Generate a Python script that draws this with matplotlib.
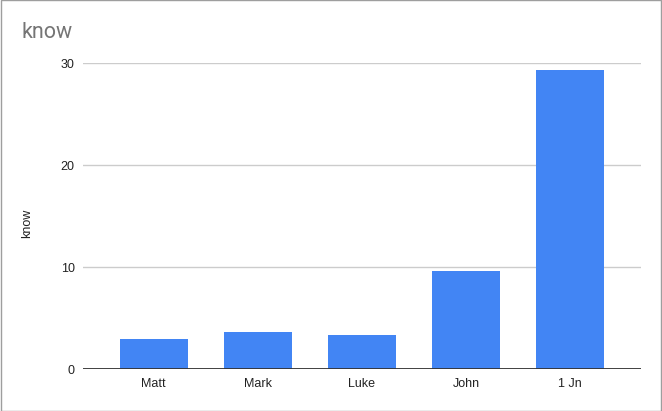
import matplotlib.pyplot as plt
from matplotlib.patches import Rectangle

# Data
books = ['Matt', 'Mark', 'Luke', 'John', '1 Jn']
know = [3.0, 3.65, 3.35, 9.6, 29.35]
y_ticks = [0, 10, 20, 30]

plt.rcParams['font.family'] = ['Liberation Sans', 'DejaVu Sans']

fig = plt.figure(figsize=(6.62, 4.11), dpi=100)
ax = fig.add_axes([0.1254, 0.1015, 0.8426, 0.744])

ax.bar(range(len(books)), know, width=0.65, color='#4285F4', zorder=3)

ax.set_xlim(-0.68, len(books) - 1 + 0.68)
ax.set_ylim(0, 30)
ax.set_yticks(y_ticks)
ax.set_xticks(range(len(books)))
ax.set_xticklabels(books)

# gridlines and baseline
ax.grid(axis='y', color='#cccccc', linewidth=1, zorder=0)
ax.axhline(0, color='#333333', linewidth=1.3, zorder=4)
for s in ax.spines.values():
    s.set_visible(False)

ax.tick_params(axis='both', length=0, labelsize=9, colors='#222222')
ax.tick_params(axis='y', pad=6)
ax.tick_params(axis='x', pad=6)

ax.set_ylabel('know', fontsize=9, color='#222222')
ax.yaxis.set_label_coords(-0.09, 0.478)

fig.text(0.033, 0.92, 'know', fontsize=15.5, color='#757575',
         family=['Roboto', 'DejaVu Sans'], va='center', ha='left')

# outer border
fig.patches.append(Rectangle((0.0008, 0.0012), 0.9984, 0.9976, transform=fig.transFigure,
                             fill=False, edgecolor='#9e9e9e', linewidth=1))

fig.savefig('out.png', dpi=100)
